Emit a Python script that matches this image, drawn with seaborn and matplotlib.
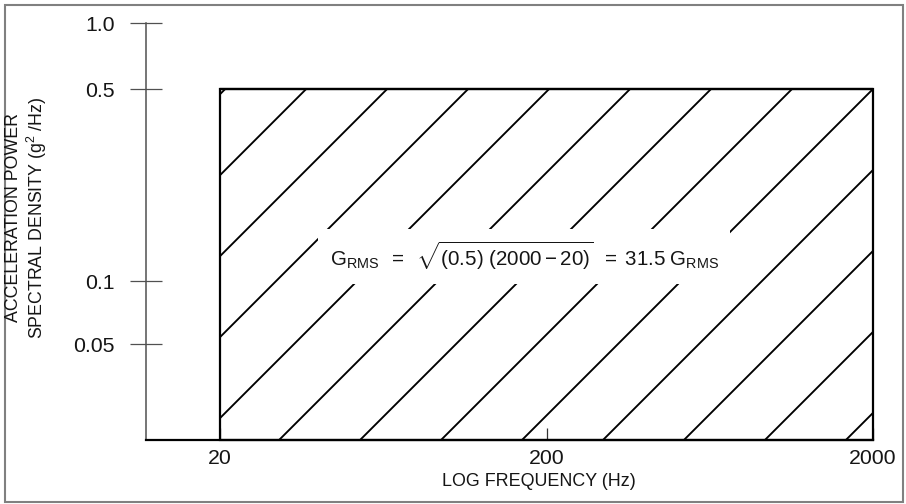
import numpy as np
import pandas as pd
import matplotlib
matplotlib.use("Agg")
import matplotlib.pyplot as plt
import seaborn as sns
from matplotlib.patches import Rectangle
from matplotlib.transforms import IdentityTransform
from matplotlib.ticker import FixedLocator, FixedFormatter, NullLocator

# ---------------- data ----------------
freq_band = [20, 2000]            # Hz
psd_level = [0.5, 0.5]            # g^2/Hz
x_ticks = [20, 200, 2000]
x_tick_labels = ["20", "200", "2000"]
y_ticks = [0.05, 0.1, 0.5, 1.0]
y_tick_labels = ["0.05", "0.1", "0.5", "1.0"]
x_label = "LOG FREQUENCY (Hz)"
y_label = "ACCELERATION POWER\nSPECTRAL DENSITY (g$^2$ /Hz)"
formula = (r"$\mathrm{G_{RMS}}\;\;=\;\;\sqrt{\mathrm{(0.5)\ (2000-20)}}"
           r"\;\;=\;31.5\;\mathrm{G_{RMS}}$")

# ---------------- style ----------------
sns.set_theme(style="white")
plt.rcParams["font.family"] = ["Liberation Sans", "DejaVu Sans"]
plt.rcParams["mathtext.fontset"] = "custom"
plt.rcParams["mathtext.rm"] = "Liberation Sans"
plt.rcParams["mathtext.it"] = "Liberation Sans:italic"
plt.rcParams["mathtext.bf"] = "Liberation Sans:bold"

W, H, DPI = 906, 504, 100
fig = plt.figure(figsize=(W / DPI, H / DPI), dpi=DPI)
fig.patch.set_facecolor("white")
L, R, B, T = 146, 873, 440, 23
ax = fig.add_axes([L / W, 1 - B / H, (R - L) / W, (B - T) / H])

# schematic (hand-drawn) log axis calibration for the y scale
cal_log = np.log10([0.05, 0.1, 0.5, 1.0])
cal_pos = np.array([96.0, 159.0, 351.0, 417.0])
lo_slope = (cal_pos[1] - cal_pos[0]) / (cal_log[1] - cal_log[0])
hi_slope = (cal_pos[-1] - cal_pos[-2]) / (cal_log[-1] - cal_log[-2])


def fwd(y):
    y = np.asarray(y, dtype=float)
    ly = np.log10(np.clip(y, 1e-12, None))
    out = np.interp(ly, cal_log, cal_pos)
    out = np.where(ly < cal_log[0], cal_pos[0] + (ly - cal_log[0]) * lo_slope, out)
    out = np.where(ly > cal_log[-1], cal_pos[-1] + (ly - cal_log[-1]) * hi_slope, out)
    return out


def inv(p):
    p = np.asarray(p, dtype=float)
    lv = np.interp(p, cal_pos, cal_log)
    lv = np.where(p < cal_pos[0], cal_log[0] + (p - cal_pos[0]) / lo_slope, lv)
    lv = np.where(p > cal_pos[-1], cal_log[-1] + (p - cal_pos[-1]) / hi_slope, lv)
    return 10 ** lv


ax.set_xscale("log")
ax.set_yscale("function", functions=(fwd, inv))
x_left = 10 ** (np.log10(x_ticks[0]) - (220 - L) / ((R - 220) / 2.0))
ax.set_xlim(x_left, x_ticks[-1])
y_bottom = float(inv(0.0))
ax.set_ylim(y_bottom, y_ticks[-1])

# band outline
df = pd.DataFrame({"freq": freq_band, "psd": psd_level})
sns.lineplot(data=df, x="freq", y="psd", ax=ax, color="black", lw=1.6,
             zorder=4)
rect = Rectangle((freq_band[0], y_bottom), freq_band[1] - freq_band[0],
                 psd_level[0] - y_bottom, fill=False, edgecolor="black",
                 lw=1.6, zorder=4, clip_on=False)
ax.add_patch(rect)

# sparse diagonal hatching, computed in display space
(x0, y0) = ax.transData.transform((freq_band[0], y_bottom))
(x1, y1) = ax.transData.transform((freq_band[1], psd_level[0]))
spacing = 58.3 * fig.dpi / 72.0
c0 = y1 - x1
cmin, cmax = y0 - x1, y1 - x0
ks = np.arange(np.floor((cmin - c0) / spacing), np.ceil((cmax - c0) / spacing) + 1)
for k in ks:
    c = c0 + k * spacing
    xa = max(x0, y0 - c)
    xb = min(x1, y1 - c)
    if xb - xa < 2:
        continue
    ax.plot([xa, xb], [xa + c, xb + c], color="black", lw=1.35,
            transform=IdentityTransform(), zorder=3, clip_on=False,
            solid_capstyle="butt")

# formula
ax.text(0.52, 0.441, formula, transform=ax.transAxes, ha="center",
        va="center", fontsize=14.8, color="#151515", zorder=5,
        bbox=dict(boxstyle="square,pad=0.55", facecolor="white",
                  edgecolor="none"))

# axes styling
for s in ["top", "right"]:
    ax.spines[s].set_visible(False)
ax.spines["left"].set_color("#505050")
ax.spines["left"].set_linewidth(1.1)
ax.spines["bottom"].set_color("black")
ax.spines["bottom"].set_linewidth(1.6)

ax.yaxis.set_major_locator(FixedLocator(y_ticks))
ax.yaxis.set_major_formatter(FixedFormatter(y_tick_labels))
ax.yaxis.set_minor_locator(NullLocator())
ax.xaxis.set_major_locator(FixedLocator(x_ticks))
ax.xaxis.set_major_formatter(FixedFormatter(x_tick_labels))
ax.xaxis.set_minor_locator(NullLocator())

ax.tick_params(axis="y", direction="inout", length=23, width=0.9,
               color="#505050", pad=10.8, labelsize=15.3, labelcolor="#151515",
               left=True)
ax.tick_params(axis="x", direction="in", length=8.5, width=0.9,
               color="#333333", pad=6.5, labelsize=15.3, labelcolor="#151515",
               bottom=True)
ax.set_xlabel("")
ax.set_ylabel("")
ax.grid(False)
ax.set_facecolor("white")

fig.text(539 / W, 1 - 481 / H, x_label, ha="center", va="center",
         fontsize=12.9, color="#151515")
fig.text(27 / W, 1 - 218 / H, y_label, ha="center", va="center",
         rotation=90, multialignment="center", fontsize=12.8,
         color="#151515", linespacing=1.12)

# outer frame
fig.add_artist(Rectangle((5 / W, 1 - 502 / H), 898 / W, 497 / H,
                         transform=fig.transFigure, fill=False,
                         edgecolor="#808080", lw=1.5))

fig.savefig("out.png", dpi=DPI)
